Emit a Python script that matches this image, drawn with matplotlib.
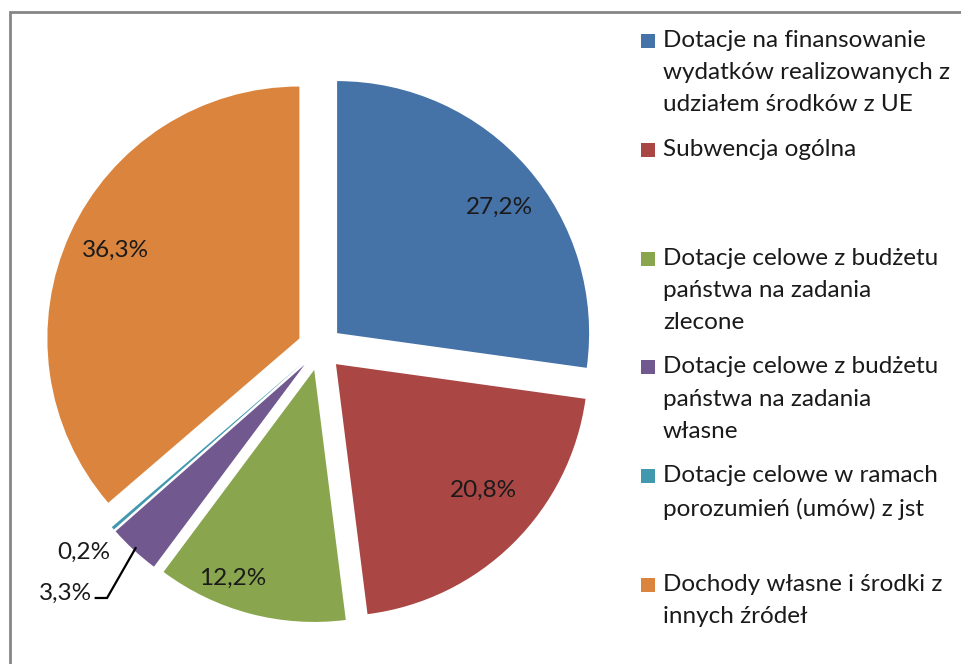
import numpy as np
import matplotlib.pyplot as plt
from matplotlib.patches import Rectangle

# data
labels = [
    "Dotacje na finansowanie\nwydatków realizowanych z\nudziałem środków z UE",
    "Subwencja ogólna",
    "Dotacje celowe z budżetu\npaństwa na zadania\nzlecone",
    "Dotacje celowe z budżetu\npaństwa na zadania\nwłasne",
    "Dotacje celowe w ramach\nporozumień (umów) z jst",
    "Dochody własne i środki z\ninnych źródeł",
]
shares = [27.2, 20.8, 12.2, 3.3, 0.2, 36.3]
colors = ["#4572A7", "#AA4643", "#89A54E", "#71588F", "#4198AF", "#DB843D"]

plt.rcParams['font.family'] = ['Lato', 'DejaVu Sans']
W, H = 962, 664
fig = plt.figure(figsize=(W / 100, H / 100), dpi=100)

# pie axes: centre (320, 348) px, radius 252 px
scale = 252
cx, cy = 320, 348
half = 1.25
ax = fig.add_axes([(cx - half * scale) / W, (H - cy - half * scale) / H,
                   2 * half * scale / W, 2 * half * scale / H])
ax.set_xlim(-half, half)
ax.set_ylim(-half, half)
ax.axis('off')

explode = [0.09] * len(shares)
fmt = lambda p: ("%.1f%%" % p).replace(".", ",")
wedges, texts, autotexts = ax.pie(shares, colors=colors, explode=explode,
                                  startangle=90, counterclock=False,
                                  autopct=fmt, pctdistance=0.83,
                                  textprops={'fontsize': 17.5, 'color': '#1a1a1a'},
                                  wedgeprops={'linewidth': 0})

# label placement as in the original (Excel puts them a bit irregularly)
label_pos = {0: (0.714, 0.560), 1: (0.647, -0.563),
             2: (-0.345, -0.913), 5: (-0.813, 0.389)}
for i, p in label_pos.items():
    autotexts[i].set_position(p)

# small slices: labels outside, left of the pie
autotexts[4].set_position((-0.833, -0.81))
autotexts[4].set_ha('right')
autotexts[3].set_position((-0.905, -0.975))
autotexts[3].set_ha('right')
w = wedges[3]
mid = np.deg2rad((w.theta1 + w.theta2) / 2)
ex, ey = w.center
end = (ex + 0.99 * np.cos(mid), ey + 0.99 * np.sin(mid))
ax.plot([-0.89, -0.845, end[0]], [-0.992, -0.992, end[1]],
        color='black', lw=1.6, solid_joinstyle='miter')

# legend drawn by hand, entries spaced evenly like in Excel
y0, step = 41, 108.8
for i, (lab, col) in enumerate(zip(labels, colors)):
    y = y0 + step * i
    fig.patches.append(Rectangle((641 / W, 1 - (y + 7) / H), 14 / W, 14 / H,
                                 transform=fig.transFigure, facecolor=col,
                                 edgecolor='none'))
    fig.text(663 / W, 1 - (y - 11) / H, lab, fontsize=17.5, color='#1a1a1a',
             va='top', ha='left', linespacing=1.66)

# chart frame (only top and left edges visible)
fig.patches.append(Rectangle((10 / W, -0.1), 1.2, 1.1 - 12 / H,
                             transform=fig.transFigure, fill=False,
                             edgecolor='#868686', lw=2))

fig.savefig('out.png', dpi=100)
